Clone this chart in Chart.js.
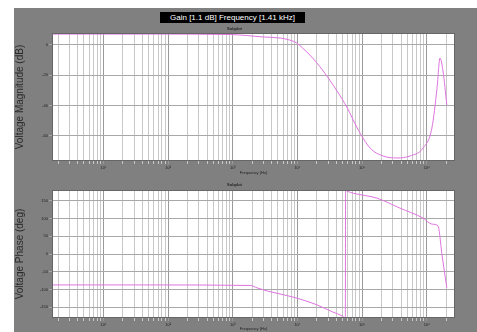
<!DOCTYPE html>
<html>
<head>
<meta charset="utf-8">
<script src="https://cdn.jsdelivr.net/npm/chart.js@4.4.0/dist/chart.umd.min.js"></script>
<style>
  html, body { margin: 0; padding: 0; background: #fff; }
  #panel { position: absolute; left: 14px; top: 8px; width: 463px; height: 324px; background: #808080; }
  #title { position: absolute; left: 146px; top: 4px; width: 145px; height: 11px; background: #000; color: #fff;
           font: 8px "Liberation Sans", Arial, sans-serif; line-height: 11px; text-align: center; white-space: nowrap; overflow: hidden; }
  .box { position: absolute; left: 0; width: 463px; height: 154px; }
</style>
</head>
<body>
<div id="panel">
  <div id="title">Gain [1.1 dB] Frequency [1.41 kHz]</div>
  <div class="box" style="top:16px"><canvas id="mag" width="463" height="154"></canvas></div>
  <div class="box" style="top:170px"><canvas id="phase" width="463" height="154"></canvas></div>
</div>
<script>
// x axis (log, Hz)
var decades = [1, 10, 100, 1000, 10000, 100000, 1000000];
var decadeLabels = ['10⁰', '10¹', '10²', '10³', '10⁴', '10⁵', '10⁶'];
var minorSteps = [2, 3, 4, 5, 6, 7, 8, 9];
var freqMin = 1.6, freqMax = 2730000;

// magnitude
var magFreq = [1.6, 52, 910, 2950, 5400, 7500, 9800, 12000, 15600, 25000, 41000, 59000, 84000, 133000, 211000, 347000, 550000, 875000, 1200000, 1440000, 1600000, 1780000, 2040000];
var magDb   = [7.0, 7.0, 6.7, 5.1, 4.4, 3.1, 1.1, -2.2, -6.8, -17.3, -30.5, -41.6, -54.8, -68.0, -73.2, -74.5, -73.2, -68.0, -54.8, -28.5, -8.8, -17.3, -39.7];
var magTicks = [-60, -40, -20, 0];

// phase
var phaseFreq = [1.6, 52, 1860, 2400, 3400, 8500, 20000, 35000, 49000, 55000, 55500, 60000, 73000, 170000, 385000, 875000, 1200000, 1490000, 1720000, 2040000];
var phaseDeg  = [-87, -87, -88.5, -95.5, -104, -121, -143, -163, -174, -180, 179, 176, 171, 157, 129, 101, 84, 79, -3, -95];
var phaseTicks = [-150, -100, -50, 0, 50, 100, 150];

Chart.defaults.font.family = '"Liberation Sans", Arial, sans-serif';
Chart.defaults.color = '#222';

var xTicks = [];
decades.forEach(function (d) {
    xTicks.push(d);
    minorSteps.forEach(function (m) { xTicks.push(d * m); });
});
xTicks = xTicks.filter(function (v) { return v >= freqMin && v <= freqMax; });

var framePlugin = {
    id: 'frame',
    beforeDraw: function (chart) {
        var a = chart.chartArea, c = chart.ctx;
        c.save();
        c.fillStyle = '#fff';
        c.fillRect(a.left, a.top, a.right - a.left, a.bottom - a.top);
        c.restore();
    },
    afterDraw: function (chart) {
        var a = chart.chartArea, c = chart.ctx;
        c.save();
        c.strokeStyle = '#666';
        c.lineWidth = 1;
        c.strokeRect(a.left + 0.5, a.top + 0.5, a.right - a.left - 1, a.bottom - a.top - 1);
        c.restore();
    }
};

function makeChart(id, freq, vals, yMin, yMax, yTicks, yTitle, titlePad, xHeight, xTitlePad) {
    var pts = freq.map(function (f, i) { return {x: f, y: vals[i]}; });
    return new Chart(document.getElementById(id), {
        type: 'line',
        data: {
            datasets: [{
                data: pts,
                borderColor: '#df74df',
                borderWidth: 1,
                pointRadius: 0,
                fill: false,
                cubicInterpolationMode: 'monotone'
            }]
        },
        options: {
            responsive: false,
            animation: false,
            layout: {padding: {left: 0, right: 22, top: 0, bottom: 0}},
            plugins: {
                legend: {display: false},
                tooltip: {enabled: false},
                title: {display: true, text: 'Subplot', font: {size: 4, lineHeight: 1}, padding: titlePad, color: '#222'}
            },
            scales: {
                x: {
                    type: 'logarithmic',
                    min: freqMin,
                    max: freqMax,
                    afterBuildTicks: function (axis) {
                        axis.ticks = xTicks.map(function (v) { return {value: v}; });
                    },
                    afterFit: function (scale) { scale.height = xHeight; },
                    ticks: {
                        autoSkip: false,
                        maxRotation: 0,
                        padding: 1,
                        font: {size: 4},
                        callback: function (v) {
                            var k = decades.indexOf(v);
                            return k >= 0 ? decadeLabels[k] : '';
                        }
                    },
                    grid: {
                        tickLength: 3,
                        color: function (ctx) {
                            return ctx.tick && decades.indexOf(ctx.tick.value) >= 0 ? '#9a9a9a' : '#c8c8c8';
                        }
                    },
                    border: {display: false},
                    title: {display: true, text: 'Frequency (Hz)', font: {size: 4, lineHeight: 1}, padding: {top: 0, bottom: xTitlePad}, color: '#222'}
                },
                y: {
                    min: yMin,
                    max: yMax,
                    afterBuildTicks: function (axis) {
                        axis.ticks = yTicks.map(function (v) { return {value: v}; });
                    },
                    afterFit: function (scale) { scale.width = 38; },
                    ticks: {padding: 1, font: {size: 4}},
                    grid: {tickLength: 3, color: '#a8a8a8'},
                    border: {display: false},
                    title: {display: true, text: yTitle, font: {size: 10}, padding: {top: 0, bottom: 0}, color: '#2a2a2a'}
                }
            }
        },
        plugins: [framePlugin]
    });
}

makeChart('mag', magFreq, magDb, -76.5, 7.7, magTicks, 'Voltage Magnitude (dB)', {top: 3, bottom: 2}, 17, 3);
makeChart('phase', phaseFreq, phaseDeg, -180, 180, phaseTicks, 'Voltage Phase (deg)', {top: 5, bottom: 3}, 14, 1);
</script>
</body>
</html>
